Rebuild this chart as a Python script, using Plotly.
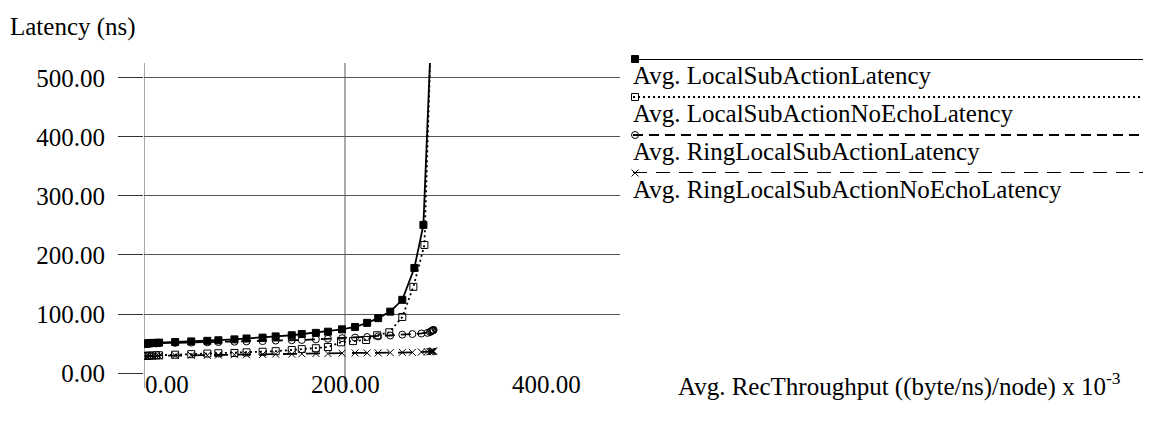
import plotly.graph_objects as go

# ---------------- data ----------------
local_x = [1, 3, 5, 8, 12, 15, 31, 47, 63, 74, 90, 102, 118, 131, 147, 157, 171, 183, 197, 210, 222, 233, 245, 257, 269, 278, 286]
local_y = [50, 50, 50.5, 51, 51, 51.5, 52.5, 53.5, 54.5, 55.5, 57, 58.5, 60, 62, 64, 66, 68, 70, 74, 78, 85, 93, 104, 124, 178, 251, 590]

noecho_x = [1, 3, 5, 8, 12, 15, 31, 47, 63, 74, 90, 102, 118, 131, 147, 157, 171, 183, 196, 208, 221, 232, 244, 257, 268, 279, 286]
noecho_y = [29, 29, 29.5, 29.5, 30, 30, 31, 32, 33, 33.5, 34, 35, 36, 37, 39, 40.5, 42, 44, 52, 54, 56, 64, 69, 95, 146, 217, 600]

ring_x = [1, 3, 5, 8, 12, 15, 31, 47, 63, 74, 90, 102, 118, 131, 147, 157, 171, 183, 197, 210, 222, 233, 245, 257, 267, 276, 282, 284.5, 285.5, 286.3, 287, 287.6, 288.2]
ring_y = [49, 49, 49.5, 50, 50, 50.5, 51, 51.5, 52, 52.5, 53, 53.5, 54, 55, 55.5, 56, 57, 58, 59, 60, 61, 62, 63.5, 65, 66, 67, 68, 69.5, 70.5, 71.5, 72, 72.5, 73]

ringne_x = [1, 3, 5, 8, 12, 15, 31, 47, 63, 74, 90, 102, 118, 131, 147, 157, 171, 183, 197, 210, 222, 233, 245, 257, 267, 276, 282, 284.5, 285.5, 286.3, 287, 287.6, 288.2]
ringne_y = [28, 28, 28.5, 28.5, 29, 29, 29.5, 30, 30, 30.5, 31, 31, 31.5, 32, 32, 32.5, 33, 33, 33.5, 34, 34, 34, 34.5, 35, 35, 35.5, 36, 36, 36.2, 36.5, 36.7, 37, 37]

series_names = [
    "Avg. LocalSubActionLatency",
    "Avg. LocalSubActionNoEchoLatency",
    "Avg. RingLocalSubActionLatency",
    "Avg. RingLocalSubActionNoEchoLatency",
]
x_ticks = [0, 200, 400]
x_grid = [0, 200]
y_ticks = [0, 100, 200, 300, 400, 500]
y_title = "Latency (ns)"
x_title = "Avg. RecThroughput ((byte/ns)/node) x 10<sup>-3</sup>"

# ---------------- styles ----------------
FONT = "Liberation Serif"
FS = 25
dashes = ["solid", "2px,3px", "10px,6px", "14px,9px"]
symbols = ["square", "square-open", "circle-open", "x-thin-open"]
GRID = "#555555"

W, H = 1150, 432
ML, MR, MT, MB = 144, 5, 20, 20
PW, PH = W - ML - MR, H - MT - MB


def px_x(p):
    return (p - ML) / PW


def px_y(p):
    return (H - MB - p) / PH


fig = go.Figure()
data = [(local_x, local_y), (noecho_x, noecho_y), (ring_x, ring_y), (ringne_x, ringne_y)]
for i, (xs, ys) in enumerate(data):
    fig.add_trace(go.Scatter(
        x=xs, y=ys, mode="lines+markers", name=series_names[i],
        line=dict(color="black", width=1.8, dash=dashes[i]),
        marker=dict(symbol=symbols[i], size=7, color="black",
                    line=dict(color="black", width=1)),
        showlegend=False, cliponaxis=True,
    ))

# vertical grid lines (only where the reference draws them), extending below the axis
for gx in x_grid:
    fig.add_shape(type="line", xref="x", yref="paper", x0=gx, x1=gx,
                  y0=px_y(388), y1=px_y(63), line=dict(color=GRID, width=1), layer="below")

# x tick labels
for v in x_ticks:
    fig.add_annotation(x=v, y=px_y(384), xref="x", yref="paper", text=f"{v:.2f}",
                       showarrow=False, xanchor="left" if v == 0 else "center",
                       xshift=0, yanchor="middle", borderpad=0,
                       font=dict(family=FONT, size=FS, color="black"))

# legend drawn on its own axes
for i, name in enumerate(series_names):
    fig.add_trace(go.Scatter(
        x=[0, 1], y=[i, i], mode="lines", xaxis="x2", yaxis="y2",
        line=dict(color="black", width=1.8, dash=dashes[i]), showlegend=False,
        hoverinfo="skip",
    ))
    fig.add_trace(go.Scatter(
        x=[0.004], y=[i], mode="markers", xaxis="x2", yaxis="y2", cliponaxis=False,
        marker=dict(symbol=symbols[i], size=7, color="black", line=dict(color="black", width=1)),
        showlegend=False, hoverinfo="skip",
    ))
    fig.add_annotation(
        x=0, y=i, xref="x2", yref="y2", text=name, showarrow=False,
        xanchor="left", yanchor="middle", yshift=-16, xshift=-2,
        font=dict(family=FONT, size=FS, color="black"),
    )

fig.add_annotation(x=px_x(8), y=px_y(27), xref="paper", yref="paper", text=y_title,
                   showarrow=False, xanchor="left", yanchor="middle",
                   font=dict(family=FONT, size=FS, color="black"))
fig.add_annotation(x=px_x(676), y=px_y(384), xref="paper", yref="paper", text=x_title,
                   showarrow=False, xanchor="left", yanchor="middle",
                   font=dict(family=FONT, size=FS, color="black"))

fig.update_layout(
    width=W, height=H,
    margin=dict(l=ML, r=MR, t=MT, b=MB),
    paper_bgcolor="white", plot_bgcolor="white",
    font=dict(family=FONT, size=FS, color="black"),
    xaxis=dict(
        domain=[0, px_x(620)], range=[0, 473.6], tickvals=x_ticks,
        showticklabels=False, showgrid=False, ticks="",
        showline=False, zeroline=False,
    ),
    yaxis=dict(
        domain=[px_y(373), px_y(63)], range=[0, 525.4], tickvals=y_ticks, tickformat=".2f",
        showgrid=True, gridcolor=GRID, gridwidth=1,
        ticks="outside", ticklen=25, tickcolor="#333333", tickwidth=1,
        showline=False, zeroline=False,
        ticklabelstandoff=8,
    ),
    xaxis2=dict(domain=[px_x(633), px_x(1143)], range=[0, 1], visible=False, anchor="y2"),
    yaxis2=dict(domain=[px_y(173), px_y(59)], range=[3, 0], visible=False, anchor="x2"),
)

fig.write_html("out.html")
